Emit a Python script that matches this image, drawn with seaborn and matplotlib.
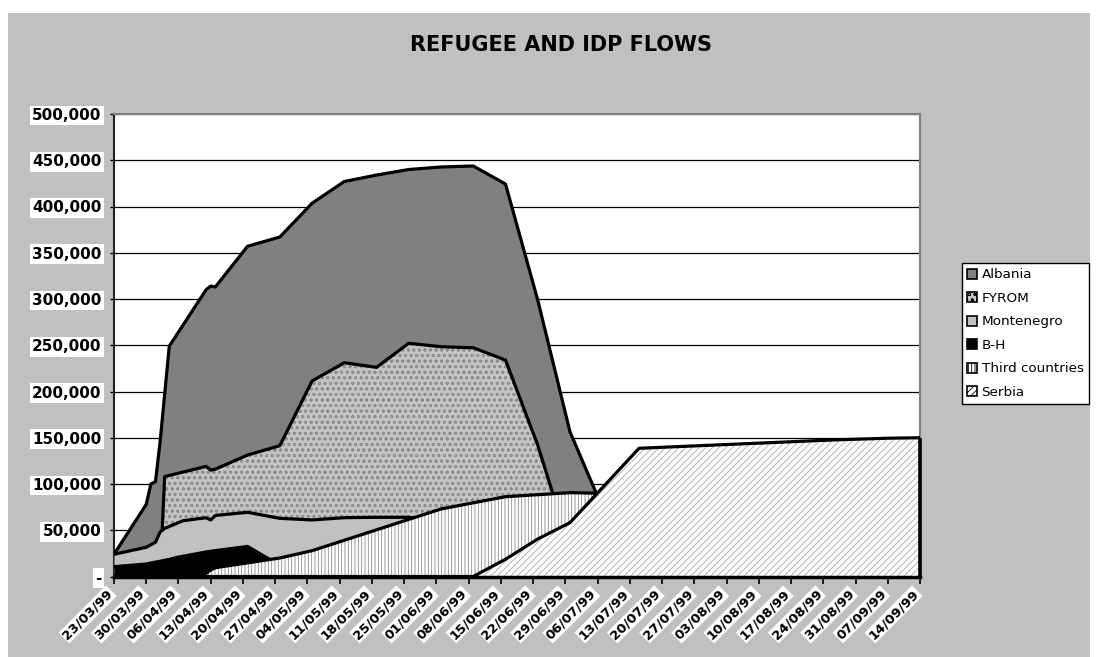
import matplotlib
matplotlib.use("Agg")
import matplotlib.pyplot as plt
import matplotlib.ticker as mticker
import matplotlib.dates as mdates
import matplotlib.transforms as mtransforms
from matplotlib.patches import Patch, Rectangle
import pandas as pd
import seaborn as sns

sns.set_style("white")
plt.rcParams["font.family"] = ["DejaVu Sans"]
plt.rcParams["hatch.linewidth"] = 0.6
plt.rcParams["text.color"] = "black"
plt.rcParams["xtick.color"] = "black"
plt.rcParams["ytick.color"] = "black"

# ---- data: people displaced, by host area (each series is its own running total) ----
albania_dates = ["1999-03-23", "1999-03-30", "1999-03-31", "1999-04-01", "1999-04-02",
                 "1999-04-04", "1999-04-12", "1999-04-13", "1999-04-14", "1999-04-21",
                 "1999-04-28", "1999-05-05", "1999-05-12", "1999-05-19", "1999-05-26",
                 "1999-06-02", "1999-06-09", "1999-06-16", "1999-06-23", "1999-06-30",
                 "1999-07-07", "1999-07-14", "1999-09-14"]
albania = [24000, 78000, 100000, 102500, 145000, 249000, 310000, 314000, 313000, 357000,
           367000, 403500, 427000, 434000, 440000, 442700, 443800, 424300, 299000, 156500,
           75000, 0, 0]

fyrom_dates = ["1999-03-23", "1999-04-02", "1999-04-03", "1999-04-12", "1999-04-13",
               "1999-04-14", "1999-04-21", "1999-04-28", "1999-05-05", "1999-05-12",
               "1999-05-19", "1999-05-26", "1999-06-02", "1999-06-09", "1999-06-16",
               "1999-06-23", "1999-06-30", "1999-07-07", "1999-09-14"]
fyrom = [0, 0, 108000, 119000, 115000, 116000, 131300, 141400, 211300, 231100,
         226100, 252100, 248400, 247300, 234000, 142000, 30000, 0, 0]

montenegro_dates = ["1999-03-23", "1999-03-30", "1999-04-01", "1999-04-02", "1999-04-03",
                    "1999-04-07", "1999-04-11", "1999-04-12", "1999-04-13", "1999-04-14",
                    "1999-04-21", "1999-04-28", "1999-05-05", "1999-05-12", "1999-05-19",
                    "1999-05-26", "1999-06-02", "1999-07-07", "1999-07-14", "1999-09-14"]
montenegro = [24000, 31600, 37000, 48000, 52000, 60300, 62900, 63500, 61100, 66000,
              69400, 62900, 61100, 63600, 64000, 64000, 60000, 60000, 0, 0]

bh_dates = ["1999-03-23", "1999-03-30", "1999-04-04", "1999-04-06", "1999-04-12",
            "1999-04-14", "1999-04-21", "1999-04-28", "1999-05-05", "1999-09-14"]
bh = [10600, 13500, 18500, 21000, 26500, 28000, 32500, 12000, 0, 0]

third_dates = ["1999-03-23", "1999-04-11", "1999-04-13", "1999-04-14", "1999-04-28",
               "1999-05-05", "1999-06-02", "1999-06-16", "1999-06-30", "1999-07-07",
               "1999-09-14"]
third = [0, 0, 7000, 9500, 20000, 27900, 73000, 86300, 90600, 90000, 90000]

serbia_dates = ["1999-03-23", "1999-06-09", "1999-06-16", "1999-06-23", "1999-06-30",
                "1999-07-15", "1999-08-12", "1999-08-26", "1999-09-07", "1999-09-14"]
serbia = [0, 0, 18600, 40500, 58200, 138600, 144600, 147600, 149500, 150000]

names = ["Albania", "FYROM", "Montenegro", "B-H", "Third countries", "Serbia"]
all_dates = [albania_dates, fyrom_dates, montenegro_dates, bh_dates, third_dates, serbia_dates]
all_values = [albania, fyrom, montenegro, bh, third, serbia]

# fill styles, back to front
styles = {
    "Albania": dict(face="#808080", hatch=None, hcolor="#808080"),
    "FYROM": dict(face="#c4c4c4", hatch="ooo", hcolor="#8c8c8c"),
    "Montenegro": dict(face="#c0c0c0", hatch=None, hcolor="#c0c0c0"),
    "B-H": dict(face="#000000", hatch=None, hcolor="#000000"),
    "Third countries": dict(face="#ffffff", hatch="|||||", hcolor="#8a8a8a"),
    "Serbia": dict(face="#ffffff", hatch="/////", hcolor="#a8a8a8"),
}

W, H = 1098, 657
fig = plt.figure(figsize=(W / 100, H / 100), dpi=100)
fig.patch.set_facecolor("white")
fig.patches.append(Rectangle((8 / W, 0), (1090 - 8) / W, (H - 13) / H,
                             transform=fig.transFigure, facecolor="#c0c0c0",
                             edgecolor="none", zorder=-10))

ax = fig.add_axes([114 / W, 1 - 576.5 / H, 806 / W, 462.5 / H])
ax.set_facecolor("white")

for i, (name, d, v) in enumerate(zip(names, all_dates, all_values)):
    st = styles[name]
    x = pd.to_datetime(d)
    ax.fill_between(x, v, 0, facecolor=st["face"], hatch=st["hatch"],
                    edgecolor=st["hcolor"], linewidth=0, zorder=2 + 2 * i)
    sns.lineplot(x=x, y=v, ax=ax, color="black", linewidth=2.3, estimator=None,
                 sort=False, legend=False, zorder=3 + 2 * i)
    if name == "Serbia":
        ax.vlines(x[-1], 0, v[-1], color="black", linewidth=2.6, zorder=3 + 2 * i,
                  clip_on=False)

ax.set_xlim(pd.Timestamp("1999-03-23"), pd.Timestamp("1999-09-14"))
ax.set_ylim(0, 500000)
ax.set_xlabel("")
ax.set_ylabel("")

# axes, grid and ticks
ax.set_axisbelow(True)
ax.yaxis.grid(True, color="black", linewidth=0.9)
ax.xaxis.grid(False)
ax.yaxis.set_major_locator(mticker.MultipleLocator(50000))
ax.yaxis.set_major_formatter(mticker.FuncFormatter(
    lambda v, p: "-" if v == 0 else f"{v:,.0f}"))
week_ticks = pd.date_range("1999-03-23", "1999-09-14", freq="7D")
ax.set_xticks(week_ticks)
ax.xaxis.set_major_formatter(mdates.DateFormatter("%d/%m/%y"))

ax.tick_params(axis="y", direction="out", length=3, width=1, pad=6, color="black",
               left=True)
ax.tick_params(axis="x", direction="out", length=5, width=1.2, pad=2.5, color="black",
               bottom=True)
for lab in ax.get_yticklabels():
    lab.set_fontsize(11)
    lab.set_fontweight("bold")
    lab.set_bbox(dict(facecolor="white", edgecolor="none", pad=1.8))
shift = mtransforms.ScaledTranslation(-8 / 100, 0, fig.dpi_scale_trans)
for lab in ax.get_xticklabels():
    lab.set_fontsize(9.5)
    lab.set_fontweight("bold")
    lab.set_rotation(45)
    lab.set_ha("right")
    lab.set_va("top")
    lab.set_rotation_mode("anchor")
    lab.set_transform(lab.get_transform() + shift)
    lab.set_bbox(dict(facecolor="white", edgecolor="none", pad=0.8))

for side in ["top", "right"]:
    ax.spines[side].set_color("#808080")
    ax.spines[side].set_linewidth(1.5)
ax.spines["left"].set_color("#222222")
ax.spines["left"].set_linewidth(1.5)
ax.spines["bottom"].set_color("black")
ax.spines["bottom"].set_linewidth(2.5)
ax.spines["bottom"].set_zorder(20)

fig.text(561 / W, 1 - 45 / H, "REFUGEE AND IDP FLOWS", ha="center", va="center",
         fontsize=15, fontweight="bold", color="black")

handles = [Patch(facecolor=styles[n]["face"], hatch=styles[n]["hatch"],
                 edgecolor="black", linewidth=1.2, label=n) for n in names]
leg = fig.legend(handles=handles, loc="upper left",
                 bbox_to_anchor=(962 / W, 1 - 263 / H), fontsize=9.7,
                 frameon=True, fancybox=False, edgecolor="black", facecolor="white",
                 framealpha=1, handlelength=0.75, handleheight=0.75, handletextpad=0.3,
                 labelspacing=0.78, borderpad=0.4, borderaxespad=0, labelcolor="black")
leg.get_frame().set_linewidth(1.0)

fig.savefig("out.png", dpi=100, facecolor=fig.get_facecolor())
